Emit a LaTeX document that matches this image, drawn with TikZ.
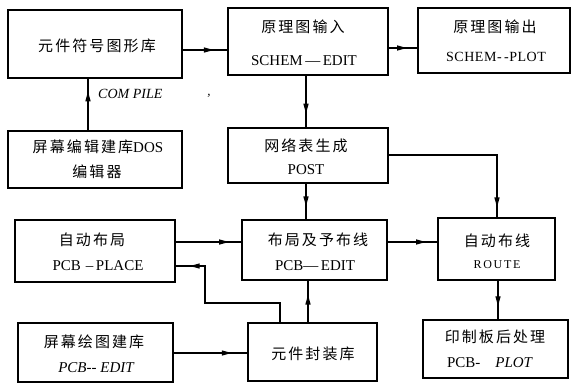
\documentclass[tikz,border=0pt]{standalone}
\usepackage{fontspec}
\setmainfont{Liberation Serif}
\newfontfamily\cjk[LetterSpace=14]{Noto Sans CJK SC}
\usetikzlibrary{calc,arrows.meta}
\tikzset{
  box/.style={draw, line width=2.2pt, rectangle, inner sep=0pt},
  zh/.style={font=\cjk\fontsize{15}{17}\selectfont, inner sep=0pt},
  en/.style={font=\fontsize{15}{17}\selectfont, inner sep=0pt},
  conn/.style={line width=1.2pt},
  tip/.style={line width=1.2pt, -{Latex[length=12pt,width=5.5pt]}}
}
\begin{document}
\begin{tikzpicture}[x=1pt,y=-1pt]
\useasboundingbox (0,0) rectangle (575,384);
% boxes
\node[box, minimum width=174pt, minimum height=68pt] (b1) at (95,44) {};
\node[box, minimum width=160pt, minimum height=67pt] (b2) at (308,41.5) {};
\node[box, minimum width=152pt, minimum height=65pt] (b3) at (494,40.5) {};
\node[box, minimum width=174pt, minimum height=57pt] (b4) at (95,159.5) {};
\node[box, minimum width=160pt, minimum height=55pt] (b5) at (308,155.5) {};
\node[box, minimum width=160pt, minimum height=62pt] (b6) at (95,251) {};
\node[box, minimum width=145pt, minimum height=60pt] (b7) at (314.5,250) {};
\node[box, minimum width=117pt, minimum height=62pt] (b8) at (496.5,249) {};
\node[box, minimum width=155pt, minimum height=59pt] (b9) at (95.5,352.5) {};
\node[box, minimum width=129pt, minimum height=58pt] (b10) at (312.5,352) {};
\node[box, minimum width=145pt, minimum height=58pt] (b11) at (495.5,349) {};
% texts
\node[zh] (t1) at (97,46) {元件符号图形库};
\node[zh] (t2a) at (303,27) {原理图输入};
\node[en] (t2b) at (304,61) {SCHEM\,—\,EDIT};
\node[zh] (t3a) at (495,27) {原理图输出};
\node[en, font=\addfontfeatures{LetterSpace=4}\fontsize{14}{16}\selectfont] (t3b) at (496,57) {SCHEM-\,-PLOT};
\node[zh] (t4a) at (98,147) {屏幕编辑建库\rmfamily DOS};
\node[zh] (t4b) at (97,172) {编辑器};
\node[zh] (t5a) at (306,146) {网络表生成};
\node[en] (t5b) at (306,170) {POST};
\node[zh] (t6a) at (92,240) {自动布局};
\node[en] (t6b) at (98,266) {PCB\,\,–\,PLACE};
\node[zh] (t7a) at (318,240) {布局及予布线};
\node[en] (t7b) at (315,266) {PCB—\,EDIT};
\node[zh] (t8a) at (497,241) {自动布线};
\node[en, font=\addfontfeatures{LetterSpace=14}\fontsize{12}{14}\selectfont] (t8b) at (497,265) {ROUTE};
\node[zh] (t9a) at (94,342) {屏幕绘图建库};
\node[en, font=\itshape\fontsize{15}{17}\selectfont] (t9b) at (96,368) {PCB-{}- EDIT};
\node[zh] (t10) at (313,354) {元件封装库};
\node[zh] (t11a) at (495,337) {印制板后处理};
\node[en] (t11b) at (490,363) {PCB-\quad\textit{PLOT}};
\node[en, font=\itshape\fontsize{14}{16}\selectfont, anchor=west] (lc) at (98,94) {COM PILE};
\node[en, font=\itshape\fontsize{13}{15}\selectfont] (cm) at (209,96) {,};
% connector points
\coordinate (p1) at (b1.east |- 0,50);  \coordinate (q1) at (b2.west |- 0,50);
\coordinate (p2) at (b2.east |- 0,48);  \coordinate (q2) at (b3.west |- 0,48);
\coordinate (p3) at (b4.north -| 88,0); \coordinate (q3) at (b1.south -| 88,0);
\coordinate (p4) at (b2.south -| 306,0); \coordinate (q4) at (b5.north -| 306,0);
\coordinate (p5) at (b5.east |- 0,155); \coordinate (k5) at (497,155); \coordinate (q5) at (b8.north -| 497,0);
\coordinate (p6) at (b5.south -| 306,0); \coordinate (q6) at (b7.north -| 306,0);
\coordinate (p7) at (b6.east |- 0,242); \coordinate (q7) at (b7.west |- 0,242);
\coordinate (p8) at (b7.east |- 0,242); \coordinate (q8) at (b8.west |- 0,242);
\coordinate (p9) at (b10.north -| 280,0); \coordinate (k9a) at (280,303); \coordinate (k9b) at (205,303); \coordinate (k9c) at (205,266); \coordinate (q9) at (b6.east |- 0,266);
\coordinate (p10) at (b10.north -| 308,0); \coordinate (q10) at (b7.south -| 308,0);
\coordinate (p11) at (b9.east |- 0,353); \coordinate (q11) at (b10.west |- 0,353);
\coordinate (p12) at (b8.south -| 498,0); \coordinate (q12) at (b11.north -| 498,0);
% connectors
\draw[conn] (p1) -- (q1);  \draw[tip] (p1) -- ($(p1)!0.75!(q1)$);
\draw[conn] (p2) -- (q2);  \draw[tip] (p2) -- ($(p2)!0.72!(q2)$);
\draw[conn] (p3) -- (q3);  \draw[tip] (p3) -- ($(p3)!0.8!(q3)$);
\draw[conn] (p4) -- (q4);  \draw[tip] (p4) -- ($(p4)!0.78!(q4)$);
\draw[conn] (p5) -- (k5) -- (q5);  \draw[tip] (k5) -- ($(k5)!0.88!(q5)$);
\draw[conn] (p6) -- (q6);  \draw[tip] (p6) -- ($(p6)!0.7!(q6)$);
\draw[conn] (p7) -- (q7);  \draw[tip] (p7) -- ($(p7)!0.85!(q7)$);
\draw[conn] (p8) -- (q8);  \draw[tip] (p8) -- ($(p8)!0.82!(q8)$);
\draw[conn] (p9) -- (k9a) -- (k9b) -- (k9c) -- (q9);  \draw[tip] (k9c) -- ($(k9c)!0.6!(q9)$);
\draw[conn] (p10) -- (q10); \draw[tip] (p10) -- ($(p10)!0.72!(q10)$);
\draw[conn] (p11) -- (q11); \draw[tip] (p11) -- ($(p11)!0.82!(q11)$);
\draw[conn] (p12) -- (q12); \draw[tip] (p12) -- ($(p12)!0.72!(q12)$);
\end{tikzpicture}
\end{document}
